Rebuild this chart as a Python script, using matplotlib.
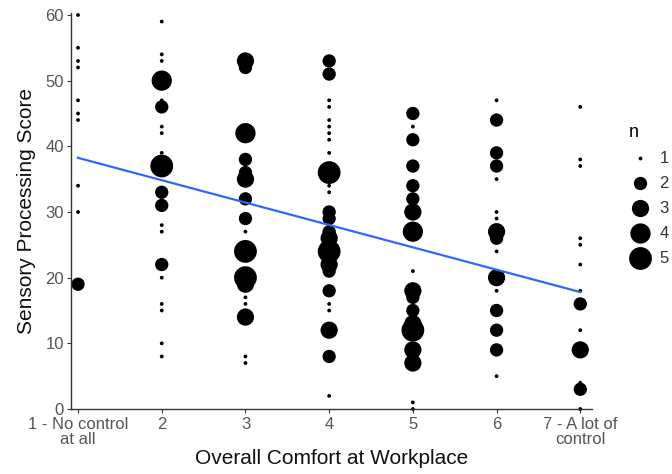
import numpy as np
import matplotlib
matplotlib.use("Agg")
import matplotlib.pyplot as plt

plt.rcParams['font.family'] = ['Liberation Sans', 'DejaVu Sans']

# scores and how many people had each score, one list per comfort level
scores_1 = [60, 55, 53, 52, 47, 45, 44, 34, 30, 19]
counts_1 = [1, 1, 1, 1, 1, 1, 1, 1, 1, 2]

scores_2 = [59, 54, 53, 50, 47, 46, 43, 42, 39, 37, 33, 31, 28, 27, 22, 20, 16, 15, 10, 8]
counts_2 = [1, 1, 1, 4, 1, 2, 1, 1, 1, 5, 2, 2, 1, 1, 2, 1, 1, 1, 1, 1]

scores_3 = [53, 52, 42, 38, 36, 35, 32, 29, 27, 24, 20, 19, 17, 16, 14, 8, 7]
counts_3 = [3, 2, 4, 2, 2, 3, 2, 2, 1, 5, 5, 3, 1, 1, 3, 1, 1]

scores_4 = [53, 51, 47, 46, 44, 43, 42, 41, 39, 36, 34, 33, 30, 29, 27, 26, 24, 22, 21, 18, 16, 15, 12, 8, 2]
counts_4 = [2, 2, 1, 1, 1, 1, 1, 1, 1, 5, 1, 1, 2, 2, 2, 3, 5, 3, 2, 2, 1, 1, 3, 2, 1]

scores_5 = [45, 43, 41, 37, 34, 32, 30, 27, 21, 18, 17, 15, 13, 12, 9, 7, 1, 0]
counts_5 = [2, 1, 2, 2, 2, 2, 3, 4, 1, 3, 2, 2, 3, 5, 3, 3, 1, 1]

scores_6 = [47, 44, 39, 37, 35, 30, 29, 27, 26, 24, 21, 20, 18, 15, 12, 9, 5]
counts_6 = [1, 2, 2, 2, 1, 1, 1, 3, 2, 1, 1, 3, 1, 2, 2, 2, 1]

scores_7 = [46, 38, 37, 26, 25, 22, 18, 16, 12, 9, 4, 3, 0]
counts_7 = [1, 1, 1, 1, 1, 1, 1, 2, 1, 3, 1, 2, 1]

tick_labels = ['1 - No control\nat all', '2', '3', '4', '5', '6', '7 - A lot of\ncontrol']

all_scores = [scores_1, scores_2, scores_3, scores_4, scores_5, scores_6, scores_7]
all_counts = [counts_1, counts_2, counts_3, counts_4, counts_5, counts_6, counts_7]

x = np.concatenate([[i + 1] * len(s) for i, s in enumerate(all_scores)]).astype(float)
y = np.concatenate(all_scores).astype(float)
n = np.concatenate(all_counts).astype(float)


def size_of(k):
    # ggplot-like area scale: n=1 -> 1, n=5 -> 6 (diameter units)
    d_px = 3.8 * (1 + 5 * np.sqrt((np.asarray(k, float) - 1) / 4))
    return (d_px * 0.72) ** 2


fig = plt.figure(figsize=(6.72, 4.74), dpi=100)
ax = fig.add_axes([71 / 672, 1 - 409 / 474, (592 - 71) / 672, (409 - 13) / 474])

ax.scatter(x, y, s=size_of(n), c='black', linewidths=0, zorder=2, clip_on=False)

# linear fit on the raw (expanded) data, like geom_smooth(method = "lm")
slope, icpt = np.polyfit(x, y, 1, w=np.sqrt(n))
xs = np.array([1.0, 7.0])
ax.plot(xs, icpt + slope * xs, color='#3366FF', lw=1.6, zorder=3)

ax.set_xlim(0.916, 7.14)
ax.set_ylim(0, 60.3)
ax.set_xticks(range(1, 8))
ax.set_xticklabels(tick_labels, linespacing=1.0)
ax.set_yticks([0, 10, 20, 30, 40, 50, 60])

for side in ['top', 'right']:
    ax.spines[side].set_visible(False)
for side in ['left', 'bottom']:
    ax.spines[side].set_color('#333333')
    ax.spines[side].set_linewidth(1.0)
ax.tick_params(colors='#333333', length=3, width=0.8, labelsize=12, pad=2)
ax.tick_params(axis='x', pad=3)
for lab in ax.get_xticklabels() + ax.get_yticklabels():
    lab.set_color('#555555')
ax.set_xlabel('Overall Comfort at Workplace', fontsize=15, labelpad=1, color='#111111')
ax.set_ylabel('Sensory Processing Score', fontsize=15, labelpad=7, color='#111111')

handles = [ax.scatter([], [], s=size_of(k), c='black', linewidths=0) for k in [1, 2, 3, 4, 5]]
leg = fig.legend(handles, ['1', '2', '3', '4', '5'], title='n', loc='upper left',
                 bbox_to_anchor=(622 / 672, 1 - 117 / 474), frameon=False,
                 fontsize=12, title_fontsize=13, labelspacing=0.6,
                 handletextpad=0.55, borderaxespad=0, handlelength=1.3)
leg._legend_box.align = 'left'
for t in leg.get_texts():
    t.set_color('#333333')

fig.savefig('out.png', dpi=100)
